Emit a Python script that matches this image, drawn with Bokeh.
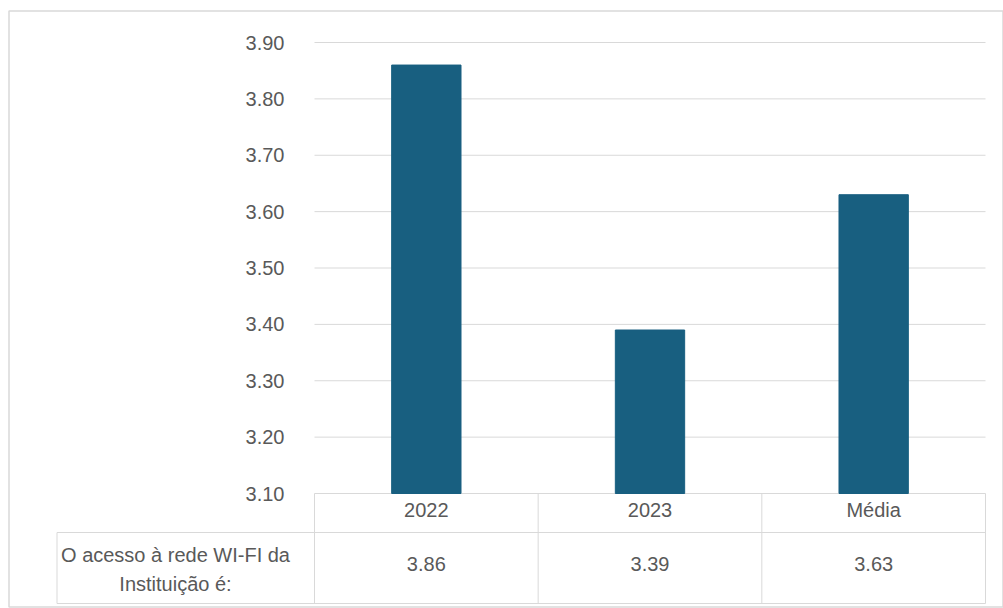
from bokeh.plotting import figure
from bokeh.models import Range1d, FixedTicker, PrintfTickFormatter
from bokeh.core.properties import value
from bokeh.embed import file_html
from bokeh.resources import INLINE

# ---- data ----
categories = ["2022", "2023", "Média"]
values = [3.86, 3.39, 3.63]
value_labels = ["3.86", "3.39", "3.63"]
y_ticks = [3.10, 3.20, 3.30, 3.40, 3.50, 3.60, 3.70, 3.80, 3.90]
row_label = "O acesso à rede WI-FI da\nInstituição é:"

# ---- layout (pixels on the page) ----
FONT = "Liberation Sans"
TXT = "#595959"
LINE = "#d9d9d9"
BAR = "#185f80"
FS = "20px"

W, H = 1003, 608
X0_PX, X3_PX = 314, 985            # plot / table edges
Y_LO_PX, Y_HI_PX = 493, 42         # pixel rows of 3.10 and 3.90
ROW_PX, TAB_BOT_PX = 532, 603
CELL_L_PX = 56.5

y_lo, y_hi = y_ticks[0], y_ticks[-1]
ppu = (Y_LO_PX - Y_HI_PX) / (y_hi - y_lo)
def yd(px):
    return y_lo - (px - Y_LO_PX) / ppu
xppu = (X3_PX - X0_PX) / len(categories)
def xd(px):
    return (px - X0_PX) / xppu

p = figure(width=W, height=H, output_backend="svg", toolbar_location=None,
           x_range=Range1d(xd(0), xd(W)), y_range=Range1d(yd(H), yd(0)),
           min_border_left=0, min_border_right=0,
           min_border_top=0, min_border_bottom=0)
p.outline_line_color = None
p.background_fill_color = "white"
p.border_fill_color = "white"

p.xaxis.visible = False
p.xgrid.visible = False
p.ygrid.visible = False

# y axis drawn at the left edge of the plot area
p.yaxis.fixed_location = 0
p.yaxis.ticker = FixedTicker(ticks=y_ticks)
p.yaxis.formatter = PrintfTickFormatter(format="%.2f")
p.yaxis.axis_line_color = None
p.yaxis.major_tick_line_color = None
p.yaxis.minor_tick_line_color = None
p.yaxis.major_tick_out = 0
p.yaxis.major_tick_in = 0
p.yaxis.major_label_standoff = 30
p.yaxis.major_label_text_font = FONT
p.yaxis.major_label_text_font_size = FS
p.yaxis.major_label_text_color = TXT

n = len(categories)
# horizontal gridlines at the ticks, across the plot area
p.segment(x0=[0] * len(y_ticks), y0=y_ticks, x1=[n] * len(y_ticks), y1=y_ticks,
          line_color=LINE, line_width=1)

# outer chart border
p.quad(left=[xd(8.5)], right=[xd(1002.5)], top=[yd(10.5)], bottom=[yd(606.5)],
       fill_alpha=0, line_color=LINE, line_width=1.5)

xs = [i + 0.5 for i in range(n)]
p.vbar(x=xs, top=values, bottom=y_lo, width=0.31, fill_color=BAR, line_color=BAR)

# data table borders
p.segment(x0=list(range(n + 1)), y0=[y_lo] * (n + 1), x1=list(range(n + 1)),
          y1=[yd(TAB_BOT_PX)] * (n + 1), line_color=LINE, line_width=1)
p.segment(x0=[0, xd(CELL_L_PX), xd(CELL_L_PX), xd(CELL_L_PX)],
          y0=[yd(ROW_PX), yd(ROW_PX), yd(TAB_BOT_PX), yd(ROW_PX)],
          x1=[n, n, n, xd(CELL_L_PX)],
          y1=[yd(ROW_PX), yd(ROW_PX), yd(TAB_BOT_PX), yd(TAB_BOT_PX)],
          line_color=LINE, line_width=1)

# header and values
p.text(x=xs, y=[yd(509)] * n, text=categories, text_align="center",
       text_baseline="middle", text_font=value(FONT), text_font_size=FS,
       text_color=TXT)
p.text(x=xs, y=[yd(563)] * n, text=value_labels, text_align="center",
       text_baseline="middle", text_font=value(FONT), text_font_size=FS,
       text_color=TXT)
p.text(x=[xd(175)], y=[yd(569)], text=[row_label], text_align="center",
       text_baseline="middle", text_font=value(FONT), text_font_size=FS,
       text_color=TXT, text_line_height=1.35)

open("out.html", "w").write(file_html(p, INLINE))
